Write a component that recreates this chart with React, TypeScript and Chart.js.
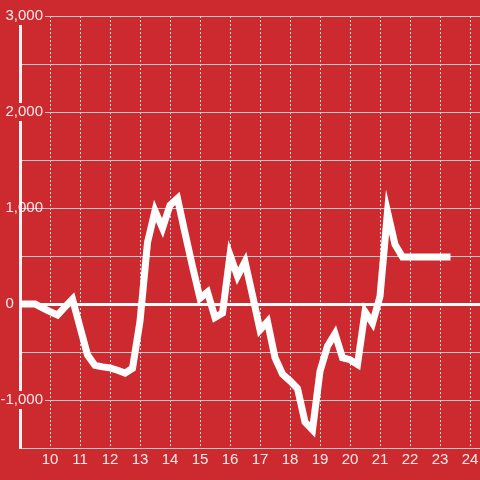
import React, { useEffect, useRef } from "react";
import { Chart, registerables } from "chart.js";

Chart.register(...registerables);

// Hours of the day (x) and values (y)
const hours = [
  9.0, 9.25, 9.5, 9.75, 10.0, 10.25, 10.5, 10.75, 11.0, 11.25, 11.5, 11.75,
  12.0, 12.25, 12.5, 12.75, 13.0, 13.25, 13.5, 13.75, 14.0, 14.25, 14.5, 14.75,
  15.0, 15.25, 15.5, 15.75, 16.0, 16.25, 16.5, 16.75, 17.0, 17.25, 17.5, 17.75,
  18.0, 18.25, 18.5, 18.75, 19.0, 19.25, 19.5, 19.75, 20.0, 20.25, 20.5, 20.75,
  21.0, 21.25, 21.5, 21.75, 22.0, 22.25, 22.5, 22.75, 23.0, 23.25, 23.35,
];
const values = [
  0, 0, 0, -40, -80, -115, -30, 50, -240, -530, -640, -655,
  -665, -690, -720, -670, -180, 640, 970, 790, 1030, 1100, 740, 390,
  60, 125, -140, -95, 510, 290, 440, 90, -270, -185, -560, -730,
  -800, -880, -1230, -1310, -700, -440, -310, -560, -580, -630, -80, -200,
  80, 960, 620, 490, 490, 490, 490, 490, 490, 490, 490,
];
const xTickValues = [10, 11, 12, 13, 14, 15, 16, 17, 18, 19, 20, 21, 22, 23, 24];
const yLabelValues = [3000, 2000, 1000, 0, -1000];
const yBackdropValues = [3000, 2000, -1000];

const BG = "#cc2a2e";
const FONT = "'Liberation Sans', Arial, Helvetica, sans-serif";

export default function App() {
  const canvasRef = useRef<HTMLCanvasElement | null>(null);

  useEffect(() => {
    const canvas = canvasRef.current;
    if (!canvas) return;
    const zeroPad = (s: any) => {
      s.paddingLeft = 0;
      s.paddingRight = 0;
      s.paddingTop = 0;
      s.paddingBottom = 0;
    };
    const chart = new Chart(canvas, {
      type: "line",
      data: {
        datasets: [
          {
            data: hours.map((h, i) => ({ x: h, y: values[i] })),
            borderColor: "#ffffff",
            borderWidth: 7,
            pointRadius: 0,
            tension: 0,
            fill: false,
          },
        ],
      },
      options: {
        responsive: false,
        animation: false,
        events: [],
        layout: { padding: { top: 16, left: 0, right: 0, bottom: 0 } },
        plugins: { legend: { display: false }, tooltip: { enabled: false } },
        scales: {
          x: {
            type: "linear",
            min: 9,
            max: 24.333,
            afterBuildTicks: (s: any) => {
              s.ticks = xTickValues.map((v) => ({ value: v }));
            },
            afterFit: (s: any) => {
              s.height = 32;
              zeroPad(s);
            },
            ticks: {
              color: "rgba(255,255,255,0.9)",
              font: { family: FONT, size: 15 },
              padding: 3,
              maxRotation: 0,
              autoSkip: false,
              callback: (v: any) => String(v),
            },
            grid: { color: "#dcdcdc", lineWidth: 1, drawTicks: false },
            border: { display: true, color: "#c8c8c8", width: 1, dash: [2, 2] },
          },
          y: {
            type: "linear",
            min: -1500,
            max: 3000,
            afterFit: (s: any) => {
              s.width = 20;
              zeroPad(s);
              // let the labels overlap the plot area instead of being clipped to the narrow axis box
              s._computeLabelArea = () => undefined;
            },
            ticks: {
              stepSize: 500,
              autoSkip: false,
              padding: -23,
              color: "rgba(255,255,255,0.9)",
              font: { family: FONT, size: 15 },
              callback: (v: any) => {
                const n = Number(v);
                if (!yLabelValues.includes(n)) return "";
                if (n === 0) return "0       ";
                return n.toLocaleString("en-US");
              },
              showLabelBackdrop: (c: any) => yBackdropValues.includes(c.tick && c.tick.value),
              backdropColor: BG,
              backdropPadding: { top: 0, bottom: 0, left: 2, right: 2 },
            },
            grid: {
              drawTicks: false,
              color: (c: any) => (c.tick && c.tick.value === 0 ? "#ffffff" : "#c8c8c8"),
              lineWidth: (c: any) => (c.tick && c.tick.value === 0 ? 3 : 1),
            },
            border: { display: true, color: "#f4f4f4", width: 3 },
          },
        },
      },
    } as any);
    return () => chart.destroy();
  }, []);

  return (
    <div
      style={{
        position: "fixed",
        left: 0,
        top: 0,
        width: 480,
        height: 480,
        background: BG,
      }}
    >
      <canvas ref={canvasRef} width={480} height={480} style={{ display: "block" }} />
    </div>
  );
}
